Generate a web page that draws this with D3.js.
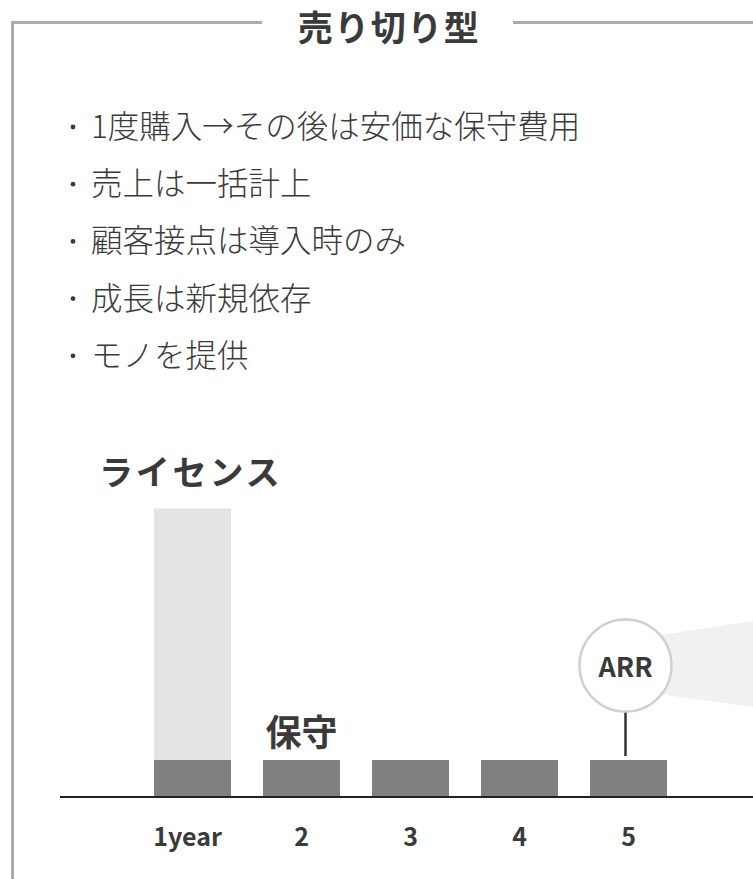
<!DOCTYPE html>
<html lang="ja">
<head>
<meta charset="utf-8">
<script src="https://cdn.jsdelivr.net/npm/d3@7"></script>
<style>
  html, body { margin: 0; padding: 0; background: #fff; }
  svg { display: block; }
</style>
</head>
<body>
<svg id="chart" width="753" height="879"></svg>
<script>
// Content
const title = "売り切り型";
const bullets = [
  "1度購入→その後は安価な保守費用",
  "売上は一括計上",
  "顧客接点は導入時のみ",
  "成長は新規依存",
  "モノを提供"
];
const years = ["1year", "2", "3", "4", "5"];
// Yearly revenue (relative units): recurring maintenance and one-off license
const maintenance = [10, 10, 10, 10, 10];
const license = [68, 0, 0, 0, 0];
const licenseLabel = "ライセンス";
const maintenanceLabel = "保守";
const arrLabel = "ARR";
const arrYear = "5";

const W = 753, H = 879;
const svg = d3.select("#chart");
const FONT = "'Noto Sans CJK JP', 'Noto Sans', sans-serif";
const TEXT = "#3a3a3a";

// Frame: top rule broken by the title, left rule running off the page
const frame = svg.append("g").attr("stroke", "#ababab").attr("stroke-width", 3).attr("fill", "none");
frame.append("path").attr("d", `M12.5,${H + 5} V22.5 H262`);
frame.append("path").attr("d", `M513,22.5 H${W + 5}`);

svg.append("text")
  .attr("x", 389).attr("y", 25)
  .attr("text-anchor", "middle").attr("dominant-baseline", "central")
  .attr("font-family", FONT).attr("font-weight", 700)
  .attr("font-size", 35).attr("letter-spacing", 1.5)
  .attr("fill", TEXT)
  .text(title);

// Bullet list
const list = svg.append("g").attr("font-family", FONT).attr("font-size", 31.5)
  .attr("font-weight", 300).attr("fill", TEXT);
bullets.forEach((t, i) => {
  const cy = 124 + i * 57.2;
  list.append("circle").attr("cx", 73).attr("cy", cy + 3).attr("r", 2.4).attr("fill", TEXT);
  list.append("text").attr("x", 91).attr("y", cy)
    .attr("dominant-baseline", "central").text(t);
});

// Scales
const x = d3.scaleBand().domain(years).range([138, 683])
  .paddingInner(0.2936).paddingOuter(0.1468);
const y = d3.scaleLinear().domain([0, 100]).range([797, 427]);

// Stacked series
const rows = years.map((yr, i) => ({ year: yr, maintenance: maintenance[i], license: license[i] }));
const stack = d3.stack().keys(["maintenance", "license"])(rows);
const colors = { maintenance: "#808080", license: "#e4e4e4" };

// ARR wedge behind the circle
const ax = x(arrYear) + x.bandwidth() / 2 - 3;
const ay = 665.5, ar = 46;
svg.append("path")
  .attr("d", `M${ax},${ay - 25} L${W + 10},${ay - 46} L${W + 10},${ay + 43} L${ax},${ay + 24} Z`)
  .attr("fill", "#f1f1f1");

svg.append("g").selectAll("g").data(stack).join("g")
  .attr("fill", d => colors[d.key])
  .selectAll("rect").data(d => d.filter(p => p[1] > p[0])).join("rect")
  .attr("x", d => x(d.data.year))
  .attr("width", x.bandwidth())
  .attr("y", d => y(d[1]))
  .attr("height", d => y(d[0]) - y(d[1]));

// Axis
const axis = svg.append("g").attr("transform", `translate(0,${y(0)})`)
  .call(d3.axisBottom(x).tickSize(0).tickPadding(31));
axis.select(".domain").remove();
axis.selectAll("text")
  .attr("font-family", FONT).attr("font-weight", 700).attr("font-size", 25).attr("fill", TEXT)
  .attr("dx", d => d === years[0] ? -5 : 0);
svg.append("line").attr("x1", 60).attr("x2", W).attr("y1", y(0)).attr("y2", y(0))
  .attr("stroke", "#222").attr("stroke-width", 2);

// Series labels
svg.append("text").attr("x", 99).attr("y", 470)
  .attr("dominant-baseline", "central")
  .attr("font-family", FONT).attr("font-weight", 700).attr("font-size", 34)
  .attr("letter-spacing", 2.8).attr("fill", TEXT).text(licenseLabel);
svg.append("text").attr("x", x("2") + x.bandwidth() / 2).attr("y", 730)
  .attr("text-anchor", "middle").attr("dominant-baseline", "central")
  .attr("font-family", FONT).attr("font-weight", 700).attr("font-size", 36)
  .attr("fill", TEXT).text(maintenanceLabel);

// ARR callout
const topOfBar = y(maintenance[years.indexOf(arrYear)]);
svg.append("line").attr("x1", ax).attr("x2", ax).attr("y1", ay + ar).attr("y2", topOfBar - 4)
  .attr("stroke", "#333").attr("stroke-width", 2.5);
svg.append("circle").attr("cx", ax).attr("cy", ay).attr("r", ar)
  .attr("fill", "#fff").attr("stroke", "#d0d0d0").attr("stroke-width", 2.5);
svg.append("text").attr("x", ax).attr("y", ay)
  .attr("text-anchor", "middle").attr("dominant-baseline", "central")
  .attr("font-family", FONT).attr("font-weight", 700).attr("font-size", 27)
  .attr("fill", TEXT).text(arrLabel);
</script>
</body>
</html>
